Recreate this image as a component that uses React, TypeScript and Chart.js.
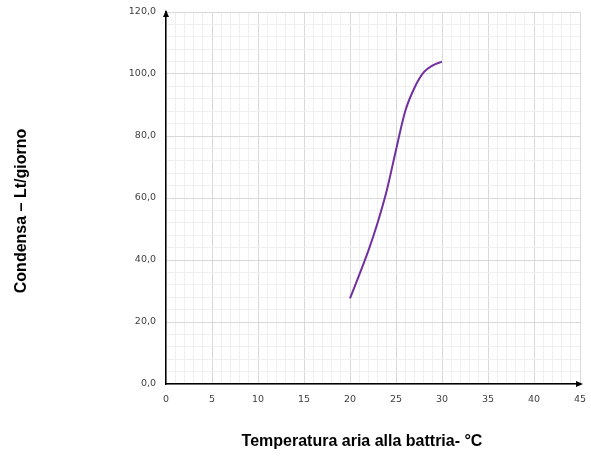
import React, { useEffect, useRef } from "react";
import { Chart, registerables } from "chart.js";

Chart.register(...registerables);

const temperature = [20, 22, 23, 24, 25, 26, 27, 28, 29, 30];
const condensa = [27.6, 43, 52, 62.5, 75.5, 88, 95.5, 100.5, 102.8, 104];
const xTitle = "Temperatura aria alla battria- °C";
const yTitle = "Condensa – Lt/giorno";

const arrowsAndTitles = {
  id: "arrowsAndTitles",
  afterDraw(chart: any) {
    const { ctx, chartArea } = chart;
    const { left, right, top, bottom } = chartArea;
    ctx.save();
    ctx.fillStyle = "#000";
    ctx.beginPath();
    ctx.moveTo(left, top - 2);
    ctx.lineTo(left - 3, top + 5);
    ctx.lineTo(left + 3, top + 5);
    ctx.closePath();
    ctx.fill();
    ctx.beginPath();
    ctx.moveTo(right + 3, bottom);
    ctx.lineTo(right - 4, bottom - 3);
    ctx.lineTo(right - 4, bottom + 3);
    ctx.closePath();
    ctx.fill();
    ctx.font = "bold 16px 'Liberation Sans', Arial, sans-serif";
    ctx.fillStyle = "#000";
    ctx.textAlign = "center";
    ctx.textBaseline = "middle";
    ctx.fillText(xTitle, 362, 442);
    ctx.translate(22, 211);
    ctx.rotate(-Math.PI / 2);
    ctx.fillText(yTitle, 0, 0);
    ctx.restore();
  },
};

export default function App() {
  const ref = useRef<HTMLCanvasElement>(null);
  useEffect(() => {
    if (!ref.current) return;
    const chart = new Chart(ref.current, {
      type: "line",
      data: {
        datasets: [
          {
            data: temperature.map((t, i) => ({ x: t, y: condensa[i] })),
            borderColor: "#7030A0",
            borderWidth: 2,
            pointRadius: 0,
            cubicInterpolationMode: "monotone",
            fill: false,
          },
        ],
      },
      options: {
        responsive: true,
        maintainAspectRatio: false,
        animation: false,
        layout: { padding: { top: 12, right: 11, left: 0, bottom: 0 } },
        plugins: { legend: { display: false }, tooltip: { enabled: false } },
        scales: {
          x: {
            type: "linear",
            min: 0,
            max: 45,
            afterFit: (s: any) => {
              s.height = 73;
              s.paddingRight = 0;
              s.paddingLeft = 0;
            },
            ticks: {
              stepSize: 1,
              autoSkip: false,
              maxRotation: 0,
              padding: 10,
              color: "#404040",
              font: { family: "'DejaVu Sans', Verdana, sans-serif", size: 9.5 },
              callback: (v: any) => (Number(v) % 5 === 0 ? String(v) : ""),
            },
            grid: {
              drawTicks: false,
              color: (c: any) => (c.tick && c.tick.value % 5 === 0 ? "#d9d9d9" : "#efefef"),
              lineWidth: 1,
            },
            border: { color: "#000", width: 1.5 },
          },
          y: {
            type: "linear",
            min: 0,
            max: 120,
            afterFit: (s: any) => {
              s.width = 166;
              s.paddingTop = 0;
              s.paddingBottom = 0;
            },
            ticks: {
              stepSize: 4,
              autoSkip: false,
              padding: 10,
              color: "#404040",
              font: { family: "'DejaVu Sans', Verdana, sans-serif", size: 9.5 },
              callback: (v: any) => (Number(v) % 20 === 0 ? Number(v).toFixed(1).replace(".", ",") : ""),
            },
            grid: {
              drawTicks: false,
              color: (c: any) => (c.tick && c.tick.value % 20 === 0 ? "#d9d9d9" : "#efefef"),
              lineWidth: 1,
            },
            border: { color: "#000", width: 1.5 },
          },
        },
      },
      plugins: [arrowsAndTitles],
    } as any);
    return () => chart.destroy();
  }, []);
  return (
    <div style={{ position: "absolute", left: 0, top: 0, width: 591, height: 457, background: "#fff" }}>
      <canvas ref={ref} />
    </div>
  );
}
